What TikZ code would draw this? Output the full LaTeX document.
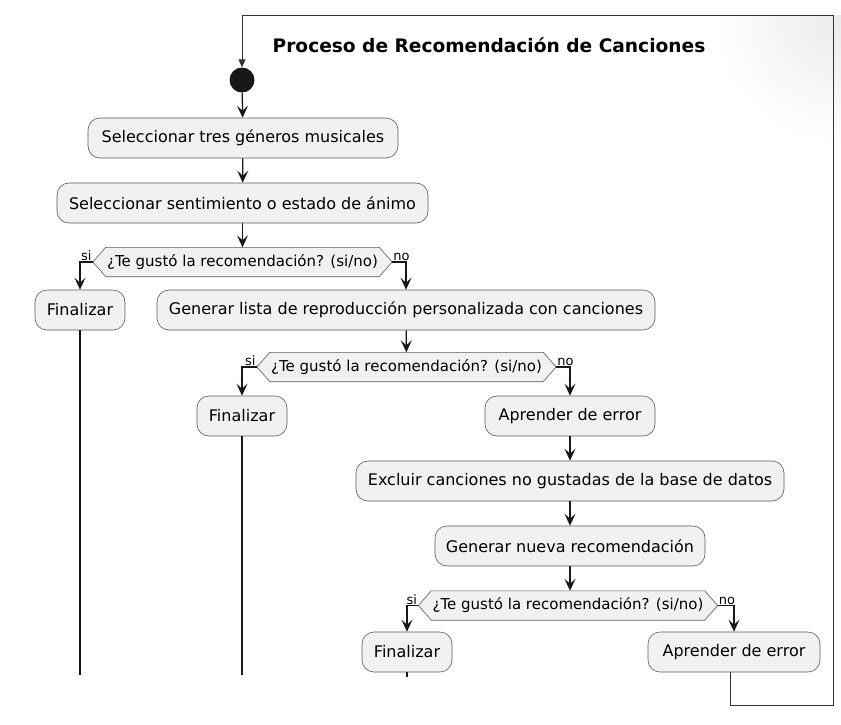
\documentclass[tikz,border=0pt]{standalone}
\usepackage{fontspec}
\setmainfont{DejaVu Sans}
\usetikzlibrary{arrows.meta,backgrounds,calc}
\definecolor{actfill}{HTML}{F1F1F1}
\definecolor{linec}{HTML}{181818}
\definecolor{edgec}{HTML}{5A5A5A}
\definecolor{loopc}{HTML}{333333}

\tikzset{
  act/.style={draw=edgec, fill=actfill, rounded corners=12pt, line width=0.6pt,
    minimum height=40pt, inner sep=0pt, font=\fontsize{16}{19}\selectfont},
  dtext/.style={inner sep=0pt, minimum width=273pt, minimum height=29pt,
    font=\fontsize{15}{17}\selectfont},
  flow/.style={line width=1.3pt, draw=linec, -{Stealth[length=12pt,width=11pt,inset=5pt]}},
  plain/.style={line width=1.3pt, draw=linec},
  back/.style={line width=1pt, draw=loopc, -{Triangle[length=8pt,width=7pt]}},
  lbl/.style={font=\fontsize{13}{15}\selectfont, inner sep=1pt}
}

% decision: name, position, text
\newcommand{\decision}[3]{
  \node[dtext] (#1) at (#2) {#3};
  \coordinate (#1-l) at ([xshift=-13pt]#1.west);
  \coordinate (#1-r) at ([xshift=13pt]#1.east);
  \begin{scope}[on background layer]
    \draw[draw=edgec, fill=actfill, line width=0.6pt]
      (#1-l) -- (#1.north west) -- (#1.north east) -- (#1-r)
      -- (#1.south east) -- (#1.south west) -- cycle;
  \end{scope}
}

\begin{document}
\begin{tikzpicture}[x=1pt,y=-1pt]
  \useasboundingbox (0,0) rectangle (841,724);
  % faint shadow in the top right corner
  \begin{scope}
    \clip (700,15) rectangle (841,260);
    \shade[inner color=black!8, outer color=white] (841,15) circle (130);
  \end{scope}

  \node[font=\fontsize{18.6}{21}\bfseries] (title) at (489,45) {Proceso de Recomendación de Canciones};
  \node[circle, fill=linec, minimum size=25pt, inner sep=0pt] (start) at (242,80) {};

  \node[act, minimum width=310pt] (sel1) at (243,138) {Seleccionar tres géneros musicales};
  \node[act, minimum width=371pt] (sel2) at (242.5,203) {Seleccionar sentimiento o estado de ánimo};
  \decision{dec1}{242.5,262}{¿Te gustó la recomendación? (si/no)}
  \node[act, minimum width=90pt] (fin1) at (80,310) {Finalizar};
  \node[act, minimum width=498pt] (lista) at (406,310) {Generar lista de reproducción personalizada con canciones};
  \decision{dec2}{406.5,367}{¿Te gustó la recomendación? (si/no)}
  \node[act, minimum width=90pt] (fin2) at (242,416) {Finalizar};
  \node[act, minimum width=170pt] (apr1) at (570,416) {Aprender de error};
  \node[act, minimum width=428pt] (excl) at (570,481) {Excluir canciones no gustadas de la base de datos};
  \node[act, minimum width=270pt] (nueva) at (570,546) {Generar nueva recomendación};
  \decision{dec3}{568,605.5}{¿Te gustó la recomendación? (si/no)}
  \node[act, minimum width=90pt] (fin3) at (407,652) {Finalizar};
  \node[act, minimum width=172pt] (apr2) at (734,652) {Aprender de error};

  \coordinate (cut) at (0,675);
  \coordinate (lb) at (730,705);
  \coordinate (lr) at (833,705);
  \coordinate (lt) at (833,15);
  \coordinate (ll) at (242,15);

  \draw[flow] (start) -- (sel1);
  \draw[flow] (sel1) -- (sel2);
  \draw[flow] (sel2) -- (dec1);
  \draw[flow] (dec1-l) -| (fin1);
  \draw[flow] (dec1-r) -| (lista);
  \draw[flow] (lista) -- (dec2);
  \draw[flow] (dec2-l) -| (fin2);
  \draw[flow] (dec2-r) -| (apr1);
  \draw[flow] (apr1) -- (excl);
  \draw[flow] (excl) -- (nueva);
  \draw[flow] (nueva) -- (dec3.north -| nueva);
  \draw[flow] (dec3-l) -| (fin3);
  \draw[flow] (dec3-r) -| (apr2);
  \node[lbl, above left] at (dec1-l) {si};
  \node[lbl, above right] at (dec1-r) {no};
  \node[lbl, above left] at (dec2-l) {si};
  \node[lbl, above right] at (dec2-r) {no};
  \node[lbl, above left] at (dec3-l) {si};
  \node[lbl, above right] at (dec3-r) {no};

  \draw[plain] (fin1) -- (fin1 |- cut);
  \draw[plain] (fin2) -- (fin2 |- cut);
  \draw[plain] (fin3) -- ++(0,25);
  \draw[back] (apr2.south -| lb) -- (lb) -- (lr) -- (lt) -- (ll) -- (start);
\end{tikzpicture}
\end{document}
